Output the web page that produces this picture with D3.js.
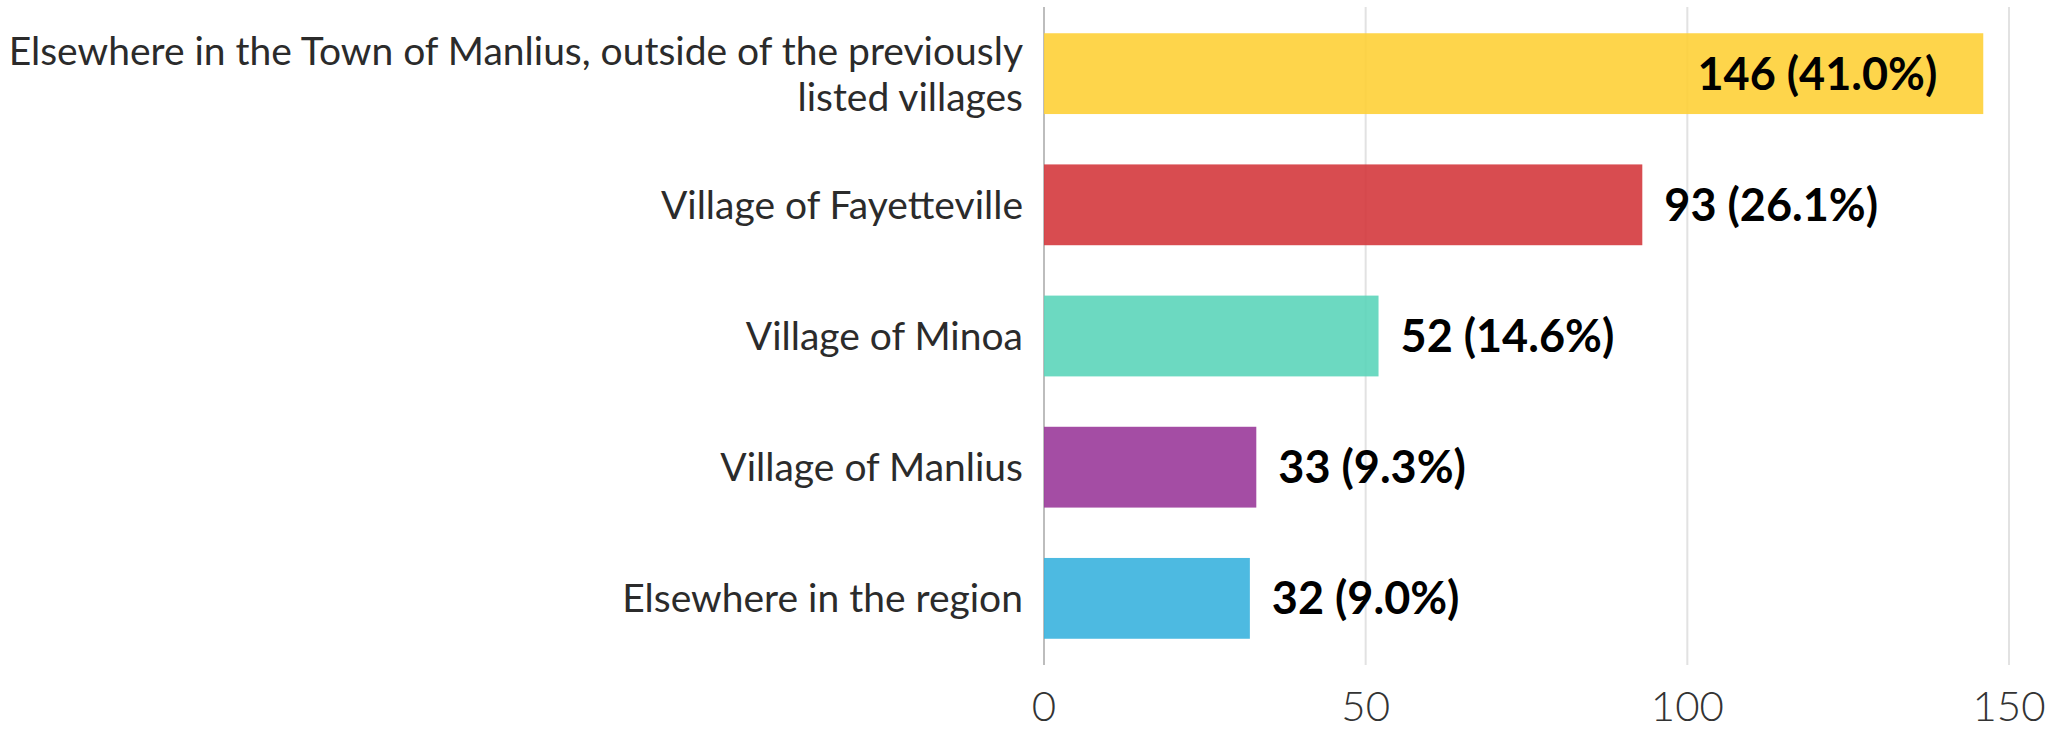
<!DOCTYPE html>
<html>
<head>
<meta charset="utf-8">
<script src="https://cdn.jsdelivr.net/npm/d3@7"></script>
<style>
  html, body { margin: 0; padding: 0; background: #fff; }
  svg { display: block; }
</style>
</head>
<body>
<div class="chart-section"></div>
<script>
const categories = [
  "Elsewhere in the Town of Manlius, outside of the previously listed villages",
  "Village of Fayetteville",
  "Village of Minoa",
  "Village of Manlius",
  "Elsewhere in the region",
];
const counts = [146, 93, 52, 33, 32];
const percents = [41.0, 26.1, 14.6, 9.3, 9.0];
const colors = ["#fed037", "#d4393d", "#5cd5ba", "#9a3a9a", "#3ab2de"];
const xTicks = [0, 50, 100, 150];

const width = 2051;
const height = 730;

const data = categories.map((name, i) => ({
  name,
  value: counts[i],
  pct: percents[i],
  color: colors[i],
}));

const svg = d3
  .select(".chart-section")
  .append("svg")
  .attr("width", width)
  .attr("height", height)
  .attr("viewBox", [0, 0, width, height]);

const x = d3.scaleLinear().domain([0, 150]).range([1044, 2009]);

const y = d3
  .scaleBand()
  .domain(categories)
  .range([7, 665])
  .paddingInner(0.384)
  .paddingOuter(0.2);

// grid lines
svg
  .append("g")
  .selectAll("line")
  .data(xTicks)
  .join("line")
  .attr("x1", (d) => x(d))
  .attr("x2", (d) => x(d))
  .attr("y1", 7)
  .attr("y2", 665)
  .attr("stroke", (d) => (d === 0 ? "#bdbdbd" : "#e2e2e2"))
  .attr("stroke-width", 2);

// tick labels
svg
  .append("g")
  .selectAll("text")
  .data(xTicks)
  .join("text")
  .attr("x", (d) => x(d))
  .attr("y", 721)
  .attr("text-anchor", "middle")
  .attr("font-family", "Lato")
  .attr("font-weight", 300)
  .attr("font-size", 42)
  .attr("fill", "#333")
  .text((d) => d);

// bars
svg
  .append("g")
  .selectAll("rect")
  .data(data)
  .join("rect")
  .attr("x", x(0))
  .attr("y", (d) => y(d.name))
  .attr("width", (d) => x(d.value) - x(0))
  .attr("height", y.bandwidth())
  .attr("fill", (d) => d.color)
  .attr("fill-opacity", 0.9);

// category labels, wrapped to fit left of the axis
const maxLabelWidth = 1025;
const lineHeight = 46;

const labels = svg
  .append("g")
  .selectAll("text")
  .data(data)
  .join("text")
  .attr("text-anchor", "end")
  .attr("font-family", "Lato")
  .attr("font-size", 39)
  .attr("fill", "#2b2b2b");

labels.each(function (d) {
  const text = d3.select(this);
  const words = d.name.split(" ");
  const lines = [];
  let line = [];
  const probe = text.append("tspan");
  words.forEach((w) => {
    line.push(w);
    probe.text(line.join(" "));
    if (probe.node().getComputedTextLength() > maxLabelWidth && line.length > 1) {
      line.pop();
      lines.push(line.join(" "));
      line = [w];
    }
  });
  lines.push(line.join(" "));
  probe.remove();

  const cy = y(d.name) + y.bandwidth() / 2;
  const first = cy - ((lines.length - 1) * lineHeight) / 2 + 14;
  lines.forEach((l, i) => {
    text
      .append("tspan")
      .attr("x", x(0) - 21)
      .attr("y", first + i * lineHeight)
      .text(l);
  });
});

// value labels
svg
  .append("g")
  .selectAll("text")
  .data(data)
  .join("text")
  .attr("font-family", "Lato")
  .attr("font-weight", 700)
  .attr("font-size", 45)
  .attr("fill", "#000")
  .attr("y", (d) => y(d.name) + y.bandwidth() / 2 + 16)
  .each(function (d) {
    const inside = d.value > 120;
    d3.select(this)
      .attr("text-anchor", inside ? "end" : "start")
      .attr("x", inside ? x(d.value) - 46 : x(d.value) + 22);
  })
  .text((d) => `${d.value} (${d.pct.toFixed(1)}%)`);
</script>
</body>
</html>
